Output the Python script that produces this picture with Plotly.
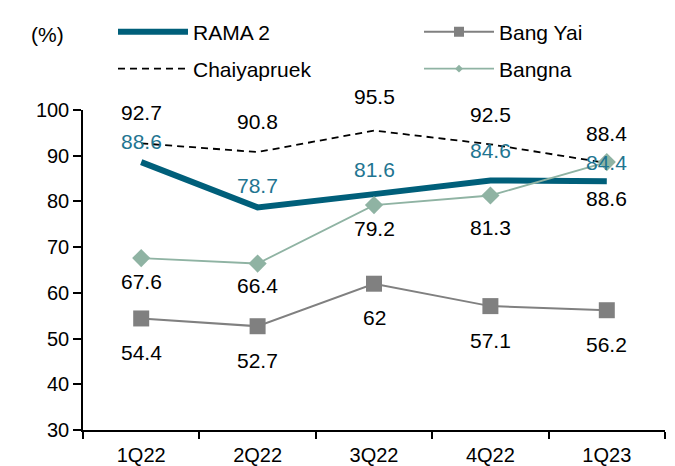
import plotly.graph_objects as go

quarters = ["1Q22", "2Q22", "3Q22", "4Q22", "1Q23"]
rama2 = [88.6, 78.7, 81.6, 84.6, 84.4]
bang_yai = [54.4, 52.7, 62.0, 57.1, 56.2]
chaiyapruek = [92.7, 90.8, 95.5, 92.5, 88.4]
bangna = [67.6, 66.4, 79.2, 81.3, 88.6]

# label vertical offsets in pixels (style, not data)
off_rama2 = [21, 22, 25, 30, 19]
off_chaiya = [31, 31, 34, 30, 30]
off_bangna = [-23, -22, -23, -32, -36]
off_bangyai = [-34, -34, -34, -34, -34]

FONT = "Liberation Sans, Arial, sans-serif"
C_RAMA = "#005f7a"
C_RAMA_TXT = "#1f7591"
C_YAI = "#808080"
C_BANGNA = "#8fb3a3"

st_rama = dict(mode="lines", line=dict(color=C_RAMA, width=6))
st_yai = dict(mode="lines+markers", line=dict(color=C_YAI, width=2))
st_chai = dict(mode="lines", line=dict(color="black", width=1.8, dash="7px,5px"))
st_bangna = dict(mode="lines+markers", line=dict(color=C_BANGNA, width=1.8))

fig = go.Figure()
fig.add_trace(go.Scatter(x=quarters, y=rama2, name="RAMA 2", showlegend=False, **st_rama))
fig.add_trace(go.Scatter(x=quarters, y=bang_yai, name="Bang Yai", showlegend=False,
                         marker=dict(symbol="square", size=16, color=C_YAI), **st_yai))
fig.add_trace(go.Scatter(x=quarters, y=chaiyapruek, name="Chaiyapruek", showlegend=False, **st_chai))
fig.add_trace(go.Scatter(x=quarters, y=bangna, name="Bangna", showlegend=False,
                         marker=dict(symbol="diamond", size=14, color=C_BANGNA), **st_bangna))

# legend-only entries (smaller legend symbols, as in the reference)
fig.add_trace(go.Scatter(x=[None], y=[None], name="RAMA 2", legend="legend", **st_rama))
fig.add_trace(go.Scatter(x=[None], y=[None], name="Bang Yai", legend="legend2",
                         marker=dict(symbol="square", size=10, color=C_YAI), **st_yai))
fig.add_trace(go.Scatter(x=[None], y=[None], name="Chaiyapruek", legend="legend3", **st_chai))
fig.add_trace(go.Scatter(x=[None], y=[None], name="Bangna", legend="legend4",
                         marker=dict(symbol="diamond", size=6, color=C_BANGNA), **st_bangna))

anns = []
def add_labels(vals, offs, color):
    for q, v, o in zip(quarters, vals, offs):
        txt = ("%g" % v)
        anns.append(dict(x=q, y=v, xref="x", yref="y", text=txt, showarrow=False,
                         yshift=o, font=dict(family=FONT, size=21, color=color)))

add_labels(chaiyapruek, off_chaiya, "black")
add_labels(rama2, off_rama2, C_RAMA_TXT)
add_labels(bangna, off_bangna, "black")
add_labels(bang_yai, off_bangyai, "black")

anns.append(dict(x=(29.5 - 83) / 582, y=(430 - 21) / 320, xref="paper", yref="paper", text="(%)",
                 showarrow=False, font=dict(family=FONT, size=21, color="black")))

legend_common = dict(orientation="h", xanchor="left", yanchor="middle",
                     font=dict(family=FONT, size=21, color="black"),
                     bgcolor="rgba(0,0,0,0)", itemwidth=70)

X1 = (113 - 83) / 582
X2 = (419 - 83) / 582
Y1 = (430 - 32) / 320
Y2 = (430 - 69) / 320

fig.update_layout(
    width=675, height=466,
    margin=dict(l=83, r=10, t=110, b=36, autoexpand=False),
    plot_bgcolor="white", paper_bgcolor="white",
    font=dict(family=FONT, size=20, color="black"),
    annotations=anns,
    showlegend=True,
    legend=dict(x=X1, y=Y1, **legend_common),
    legend2=dict(x=X2, y=Y1, **legend_common),
    legend3=dict(x=X1, y=Y2, **legend_common),
    legend4=dict(x=X2, y=Y2, **legend_common),
    xaxis=dict(type="category", range=[-0.5, 4.5], showline=True, linecolor="black", linewidth=1.5,
               ticks="outside", tickson="boundaries", ticklen=7, tickwidth=1.5, tickcolor="black",
               showgrid=False, zeroline=False, tickfont=dict(size=20), ticklabelstandoff=6),
    yaxis=dict(range=[30, 100], dtick=10, showline=True, linecolor="black", linewidth=1.5,
               ticks="outside", ticklen=8, tickwidth=1.5, tickcolor="black",
               showgrid=False, zeroline=False, tickfont=dict(size=20)),
)

fig.write_html("out.html")
